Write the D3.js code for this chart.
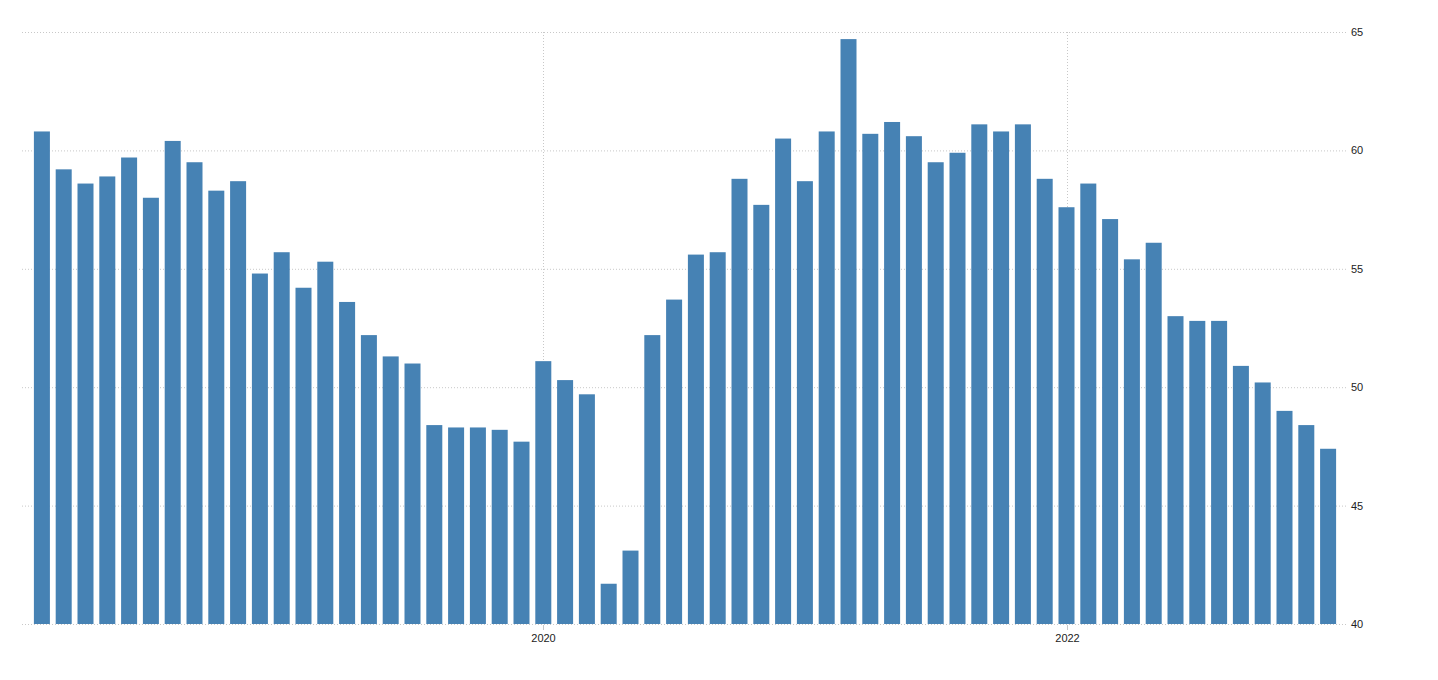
<!DOCTYPE html>
<html>
<head>
<meta charset="utf-8">
<script src="https://cdn.jsdelivr.net/npm/d3@7"></script>
<style>
  html, body { margin: 0; padding: 0; background: #fff; }
  svg { display: block; }
  text { font-family: Arial, "Liberation Sans", sans-serif; font-size: 11px; fill: #222; }
</style>
</head>
<body>
<script>
// Monthly values, Feb 2018 .. Jan 2023
const months = [
  "2018-02","2018-03","2018-04","2018-05","2018-06","2018-07","2018-08","2018-09","2018-10","2018-11","2018-12",
  "2019-01","2019-02","2019-03","2019-04","2019-05","2019-06","2019-07","2019-08","2019-09","2019-10","2019-11","2019-12",
  "2020-01","2020-02","2020-03","2020-04","2020-05","2020-06","2020-07","2020-08","2020-09","2020-10","2020-11","2020-12",
  "2021-01","2021-02","2021-03","2021-04","2021-05","2021-06","2021-07","2021-08","2021-09","2021-10","2021-11","2021-12",
  "2022-01","2022-02","2022-03","2022-04","2022-05","2022-06","2022-07","2022-08","2022-09","2022-10","2022-11","2022-12",
  "2023-01"
];
const values = [
  60.8, 59.2, 58.6, 58.9, 59.7, 58.0, 60.4, 59.5, 58.3, 58.7, 54.8,
  55.7, 54.2, 55.3, 53.6, 52.2, 51.3, 51.0, 48.4, 48.3, 48.3, 48.2, 47.7,
  51.1, 50.3, 49.7, 41.7, 43.1, 52.2, 53.7, 55.6, 55.7, 58.8, 57.7, 60.5,
  58.7, 60.8, 64.7, 60.7, 61.2, 60.6, 59.5, 59.9, 61.1, 60.8, 61.1, 58.8,
  57.6, 58.6, 57.1, 55.4, 56.1, 53.0, 52.8, 52.8, 50.9, 50.2, 49.0, 48.4,
  47.4
];
const yTicks = [40, 45, 50, 55, 60, 65];
const xTickMonths = ["2020-01", "2022-01"];
const xTickLabels = ["2020", "2022"];

const W = 1438, H = 680;
const plotTop = 32, plotBottom = 624, gridLeft = 22, gridRight = 1347;

const svg = d3.select("body").append("svg").attr("width", W).attr("height", H);

const x = d3.scaleBand().domain(months).range([31, 1339]).paddingInner(0.266).paddingOuter(0.133);
const y = d3.scaleLinear().domain([40, 65]).range([plotBottom, plotTop]);

// horizontal gridlines
svg.append("g").selectAll("line").data(yTicks).join("line")
  .attr("x1", gridLeft).attr("x2", gridRight)
  .attr("y1", d => y(d) + 0.5).attr("y2", d => y(d) + 0.5)
  .attr("stroke", "#c8c8c8").attr("stroke-width", 1).attr("stroke-dasharray", "1,2");

// vertical gridlines at year ticks
svg.append("g").selectAll("line").data(xTickMonths).join("line")
  .attr("x1", d => Math.round(x(d) + x.bandwidth() / 2) + 0.5)
  .attr("x2", d => Math.round(x(d) + x.bandwidth() / 2) + 0.5)
  .attr("y1", plotTop).attr("y2", plotBottom)
  .attr("stroke", "#c8c8c8").attr("stroke-width", 1).attr("stroke-dasharray", "1,2");

// bars
svg.append("g").selectAll("rect").data(values).join("rect")
  .attr("x", (d, i) => x(months[i]))
  .attr("width", x.bandwidth())
  .attr("y", d => y(d))
  .attr("height", d => y(40) - y(d))
  .attr("fill", "#4682b4");

// x tick marks and labels
const xt = svg.append("g").selectAll("g").data(xTickMonths).join("g")
  .attr("transform", d => `translate(${Math.round(x(d) + x.bandwidth() / 2) + 0.5},${plotBottom})`);
xt.append("line").attr("y1", 1).attr("y2", 6).attr("stroke", "#c8c8c8");
xt.append("text").attr("y", 18).attr("text-anchor", "middle").text((d, i) => xTickLabels[i]);

// y labels on the right
svg.append("g").selectAll("text").data(yTicks).join("text")
  .attr("x", 1351).attr("y", d => y(d) + 4)
  .text(d => d);
</script>
</body>
</html>
